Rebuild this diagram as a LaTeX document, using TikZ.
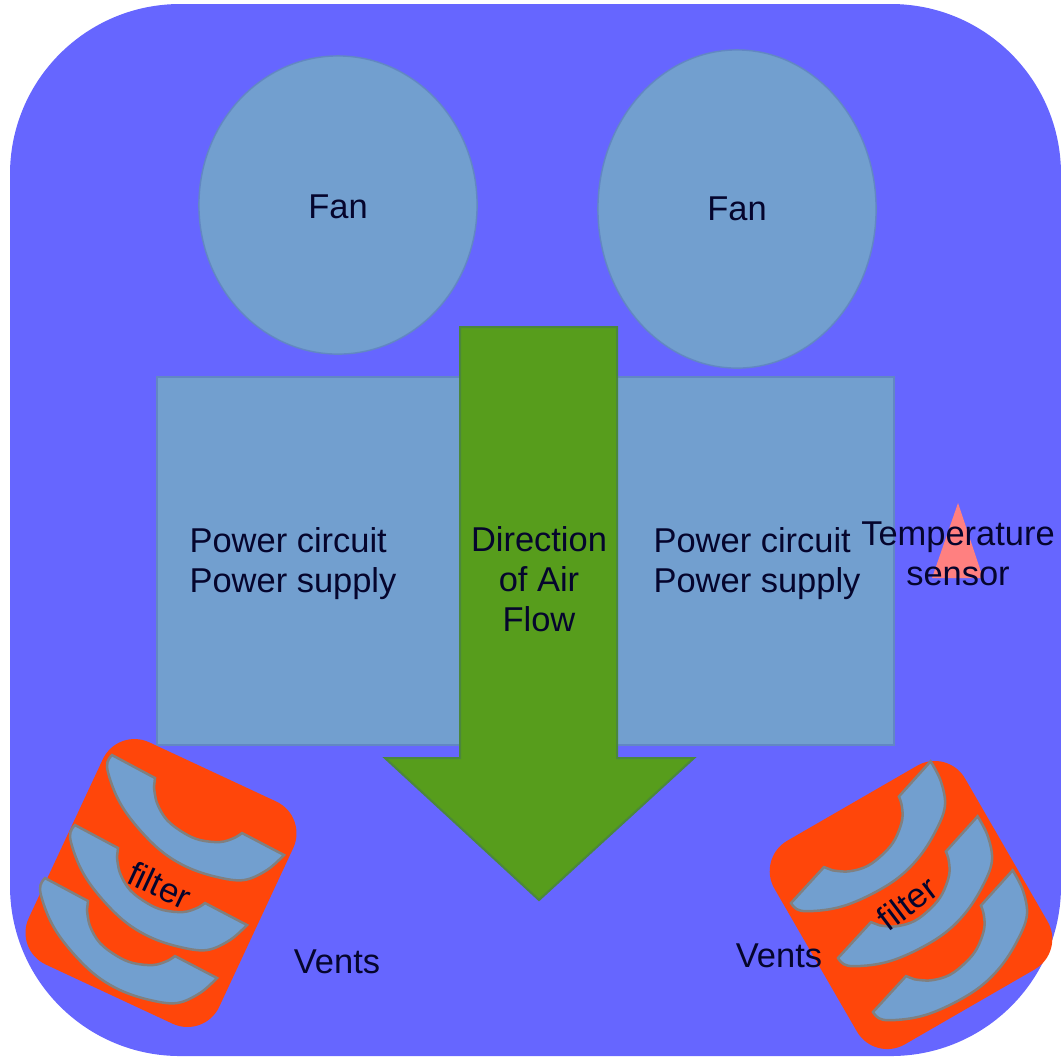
\documentclass[tikz,border=0pt]{standalone}
\usepackage{fontspec}
\setmainfont{Liberation Sans}
\usetikzlibrary{shapes.geometric}
\definecolor{casing}{RGB}{102, 102, 255}
\definecolor{part}{RGB}{114, 159, 207}
\definecolor{partline}{RGB}{98, 135, 195}
\definecolor{airflow}{RGB}{87, 157, 28}
\definecolor{airline}{RGB}{75, 135, 60}
\definecolor{filterred}{RGB}{255, 70, 10}
\definecolor{sensorred}{RGB}{255, 128, 128}
\definecolor{labeldark}{RGB}{5, 5, 45}
\tikzset{
  label text/.style={text=labeldark, font=\fontsize{9.8}{11.4}\selectfont, align=center, inner sep=0},
  fan/.style={ellipse, draw=partline, fill=part, inner sep=0, label text},
  circuit/.style={rectangle, draw=partline, fill=part, inner sep=0},
  ventbox/.style={rectangle, rounded corners=0.35cm, fill=filterred, inner sep=0},
  ventband/.style={draw=gray, line width=0.25mm, fill=part}
}
\begin{document}
\begin{tikzpicture}[x=0.01cm, y=-0.01cm]
      \useasboundingbox (0,0) rectangle (1061,1056);

      % Casing
      \draw[fill=casing, draw opacity=0, rounded corners=1.7cm] (10,4) rectangle (1061,1056);

      % Fans
      \node[fan, minimum width=2.78cm, minimum height=2.98cm] (fanleft) at (338,205) {};
      \node[fan, minimum width=2.78cm, minimum height=3.18cm] (fanright) at (737,209) {};
      \node[label text] (fanlefttext) at (338,207) {Fan};
      \node[label text] (fanrighttext) at (737,209) {Fan};

      % Power blocks
      \node[circuit, minimum width=3.03cm, minimum height=3.68cm] (powerleft) at (308.5,561) {};
      \node[circuit, minimum width=2.77cm, minimum height=3.68cm] (powerright) at (755.5,561) {};
      \node[label text, align=left] (powerlefttext) at (293,564) {Power circuit\\Power supply};
      \node[label text, align=left] (powerrighttext) at (757,564) {Power circuit\\Power supply};

      % Air flow
      \draw[fill=airflow, draw=airline, line width=0.2mm] (460,327) -- (617,327) -- (617,758) -- (694,758)
        -- (539,900) -- (385,758) -- (460,758) -- cycle;
      \node[label text] (flowtext) at (539,579) {Direction\\of Air\\Flow};

      % Temperature sensor
      \draw[fill=sensorred, draw opacity=0] (958,503) -- (983,578) -- (932,578) -- cycle;
      \node[label text] (sensortext) at (958,554) {Temperature\\sensor};

      % Vents
      \def\bandpath{(0,0) -- (43,23) -- plot[smooth, tension=0.6] coordinates {(42,32) (45,48) (55,65) (72,78) (88,85) (108,87) (122,83) (130,78)}
        -- (172,100) -- plot[smooth, tension=0.6] coordinates {(172,100) (155,115) (132,125) (105,122) (75,112) (48,95) (22,68) (5,42) (-5,12) (0,0)} -- cycle}
      \node[ventbox, rotate=-25, minimum width=2.1cm, minimum height=2.45cm] (ventleft) at (161,883) {};
      \foreach \x/\y in {45/878, 75/825, 112/755} {
        \draw[ventband, shift={(\x,\y)}] \bandpath;
      }
      \node[ventbox, rotate=30, minimum width=2.2cm, minimum height=2.35cm] (ventright) at (911,905) {};
      \foreach \x/\y in {873/1012, 838/958, 791/903} {
        \draw[ventband, shift={(\x,\y)}, rotate=75.6] \bandpath;
      }
      \node[label text, rotate=-25] (filterleft) at (160,885) {filter};
      \node[label text, rotate=37] (filterright) at (907,903) {filter};
      \node[label text] (ventsleft) at (337,962) {Vents};
      \node[label text] (ventsright) at (779,956) {Vents};
\end{tikzpicture}
\end{document}
